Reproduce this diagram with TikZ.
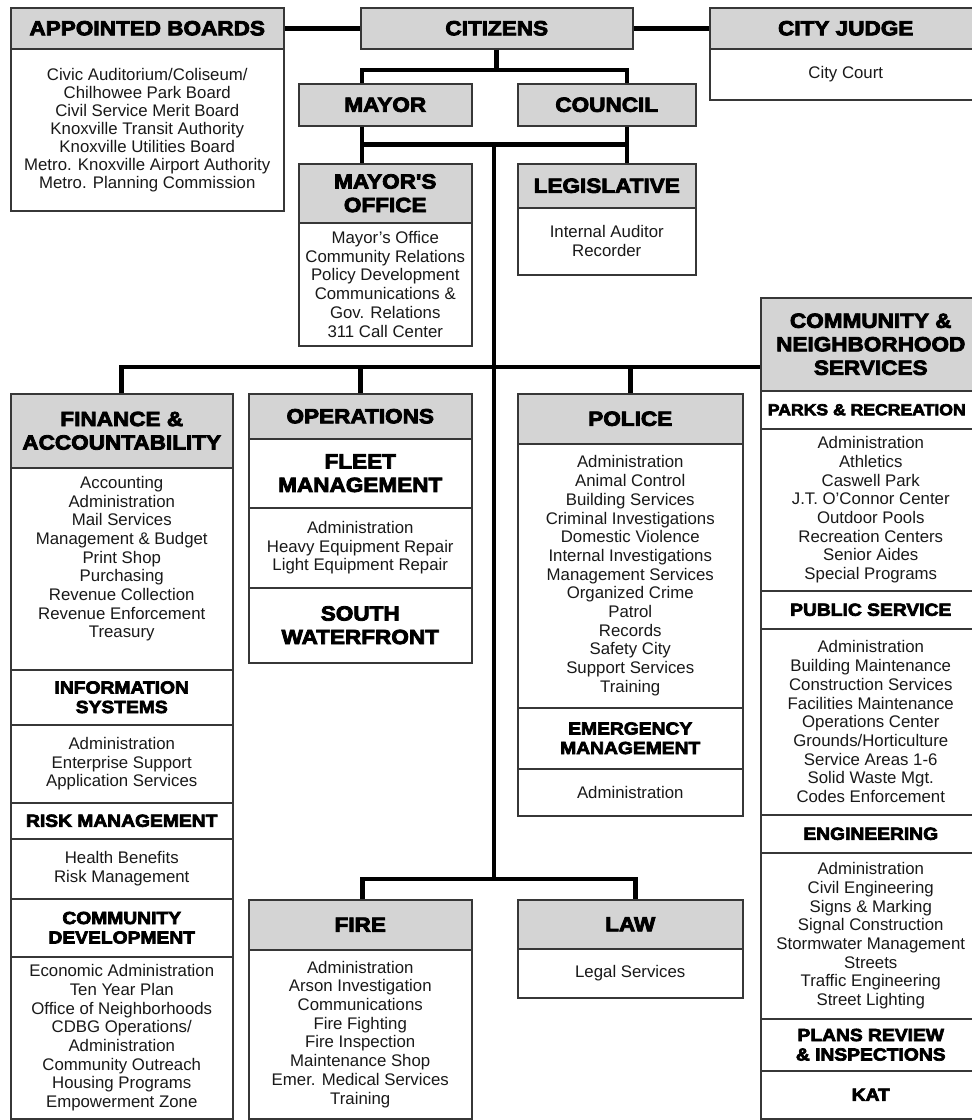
\documentclass[tikz,border=0pt]{standalone}
\usepackage{fontspec}
\setmainfont{Liberation Sans}
\newfontfamily\hdfont[FakeBold=4,FakeStretch=1.1]{Liberation Sans Bold}
\usetikzlibrary{calc}
\definecolor{hdgray}{RGB}{212,212,212}
\definecolor{edgecol}{RGB}{55,55,55}
\definecolor{itemcol}{RGB}{25,25,25}
\begin{document}
\begin{tikzpicture}[x=1pt,y=-1pt,
  cell/.style 2 args={draw=edgecol, line width=1.5pt, minimum width=#1pt, minimum height=#2pt, inner sep=0pt, anchor=north west, align=center},
  hd/.style={fill=hdgray, font=\hdfont\fontsize{20.5}{23.5}\selectfont},
  sub/.style={fill=white, font=\hdfont\fontsize{17.5}{19.5}\selectfont},
  subbig/.style={fill=white, font=\hdfont\fontsize{20.5}{23.5}\selectfont},
  body/.style={fill=white, text=itemcol, font=\fontsize{16.8}{18.7}\selectfont},
  conn/.style={line width=4.8pt, black}
]
\fill[white] (0,0) rectangle (972,1120);
\useasboundingbox (0,0) rectangle (972,1120);

% top row
\node[cell={273}{41}, hd] (abh) at (10,7) {APPOINTED BOARDS};
\node[cell={273}{162}, body, font=\fontsize{16.8}{18}\selectfont] (abb) at (10,48) {Civic Auditorium/Coliseum/\\Chilhowee Park Board\\Civil Service Merit Board\\Knoxville Transit Authority\\Knoxville Utilities Board\\Metro. Knoxville Airport Authority\\Metro. Planning Commission};
\node[cell={272}{41}, hd] (cit) at (360,7) {CITIZENS};
\node[cell={272}{41}, hd] (cjh) at (709,7) {CITY JUDGE};
\node[cell={272}{51}, body] (cjb) at (709,48) {City Court};

% mayor / council
\node[cell={173}{42}, hd] (mayor) at (298,83) {MAYOR};
\node[cell={178}{42}, hd] (council) at (517,83) {COUNCIL};
\node[cell={173}{59}, hd] (moh) at (298,163) {MAYOR'S\\OFFICE};
\node[cell={173}{123}, body] (mob) at (298,222) {Mayor's Office\\Community Relations\\Policy Development\\Communications \&\\Gov. Relations\\311 Call Center};
\node[cell={178}{44}, hd] (legh) at (517,163) {LEGISLATIVE};
\node[cell={178}{67}, body] (legb) at (517,207) {Internal Auditor\\Recorder};

% finance
\node[cell={222}{74}, hd] (finh) at (10,393) {FINANCE \&\\ACCOUNTABILITY};
\node[cell={222}{202}, body] (finb) at (10,467) {};
\node[body, inner sep=0pt, align=center] (fint) at ($(finb.center)+(0,-10)$) {Accounting\\Administration\\Mail Services\\Management \& Budget\\Print Shop\\Purchasing\\Revenue Collection\\Revenue Enforcement\\Treasury};
\node[cell={222}{55}, sub] (ish) at (10,669) {INFORMATION\\SYSTEMS};
\node[cell={222}{78}, body] (isb) at (10,724) {Administration\\Enterprise Support\\Application Services};
\node[cell={222}{36}, sub] (rmh) at (10,802) {RISK MANAGEMENT};
\node[cell={222}{60}, body] (rmb) at (10,838) {Health Benefits\\Risk Management};
\node[cell={222}{58}, sub] (cdh) at (10,898) {COMMUNITY\\DEVELOPMENT};
\node[cell={222}{162}, body] (cdb) at (10,956) {Economic Administration\\Ten Year Plan\\Office of Neighborhoods\\CDBG Operations/\\Administration\\Community Outreach\\Housing Programs\\Empowerment Zone};

% operations
\node[cell={223}{45}, hd] (oph) at (248,393) {OPERATIONS};
\node[cell={223}{69}, subbig] (fmh) at (248,438) {FLEET\\MANAGEMENT};
\node[cell={223}{80}, body] (fmb) at (248,507) {Administration\\Heavy Equipment Repair\\Light Equipment Repair};
\node[cell={223}{75}, subbig] (swh) at (248,587) {SOUTH\\WATERFRONT};

% police
\node[cell={225}{50}, hd] (polh) at (517,393) {POLICE};
\node[cell={225}{264}, body] (polb) at (517,443) {Administration\\Animal Control\\Building Services\\Criminal Investigations\\Domestic Violence\\Internal Investigations\\Management Services\\Organized Crime\\Patrol\\Records\\Safety City\\Support Services\\Training};
\node[cell={225}{61}, sub] (emh) at (517,707) {EMERGENCY\\MANAGEMENT};
\node[cell={225}{47}, body] (emb) at (517,768) {Administration};

% community & neighborhood services
\node[cell={220}{93}, hd] (cnh) at (760,297) {COMMUNITY \&\\NEIGHBORHOOD\\SERVICES};
\node[cell={220}{38}, sub] (prh) at (760,390) {};
\node[sub, inner sep=0pt, font=\hdfont\fontsize{16}{19}\selectfont] (prt) at ($(prh.center)+(-4,0)$) {PARKS \& RECREATION};
\node[cell={220}{162}, body] (prb) at (760,428) {Administration\\Athletics\\Caswell Park\\J.T. O'Connor Center\\Outdoor Pools\\Recreation Centers\\Senior Aides\\Special Programs};
\node[cell={220}{38}, sub] (psh) at (760,590) {PUBLIC SERVICE};
\node[cell={220}{186}, body] (psb) at (760,628) {Administration\\Building Maintenance\\Construction Services\\Facilities Maintenance\\Operations Center\\Grounds/Horticulture\\Service Areas 1-6\\Solid Waste Mgt.\\Codes Enforcement};
\node[cell={220}{38}, sub] (engh) at (760,814) {ENGINEERING};
\node[cell={220}{166}, body] (engb) at (760,852) {Administration\\Civil Engineering\\Signs \& Marking\\Signal Construction\\Stormwater Management\\Streets\\Traffic Engineering\\Street Lighting};
\node[cell={220}{52}, sub] (prvh) at (760,1018) {PLANS REVIEW\\\& INSPECTIONS};
\node[cell={220}{48}, sub] (kat) at (760,1070) {KAT};

% fire / law
\node[cell={223}{50}, hd] (fireh) at (248,899) {FIRE};
\node[cell={223}{169}, body] (fireb) at (248,949) {Administration\\Arson Investigation\\Communications\\Fire Fighting\\Fire Inspection\\Maintenance Shop\\Emer. Medical Services\\Training};
\node[cell={225}{49}, hd] (lawh) at (517,899) {LAW};
\node[cell={225}{49}, body] (lawb) at (517,948) {Legal Services};

% connectors
\draw[conn] (abh.east) -- (cit.west);
\draw[conn] (cit.east) -- (cjh.west);
\coordinate (mtop) at ($(mayor.north west)+(64,0)$);
\coordinate (ctop) at ($(council.north west)+(110,0)$);
\draw[conn] (cit.south) -- ++(0,22);
\draw[conn] (mtop) -- ++(0,-13) -| (ctop);
\coordinate (mbot) at ($(mayor.south west)+(64,0)$);
\coordinate (motop) at ($(moh.north west)+(64,0)$);
\draw[conn] (mbot) -- (motop);
\coordinate (cbot) at ($(council.south west)+(110,0)$);
\coordinate (ltop) at ($(legh.north west)+(110,0)$);
\draw[conn] (cbot) -- (ltop);
\coordinate (hb) at ($(mbot)+(0,18)$);
\draw[conn] (hb) -- (hb -| cbot);
\coordinate (t1) at (494,143);
\coordinate (t2) at (494,879);
\draw[conn] (t1) -- (t2);
\coordinate (cnj) at ($(cnh.north west)+(0,70)$);
\draw[conn] (finh.north) |- (cnj);
\draw[conn] (oph.north) -- (oph.north |- cnj);
\draw[conn] (polh.north) -- (polh.north |- cnj);
\coordinate (fdrop) at ($(fireh.north)+(2,0)$);
\coordinate (ldrop) at ($(lawh.north)+(5,0)$);
\draw[conn] (fdrop) -- ++(0,-20) -| (ldrop);
\end{tikzpicture}
\end{document}
